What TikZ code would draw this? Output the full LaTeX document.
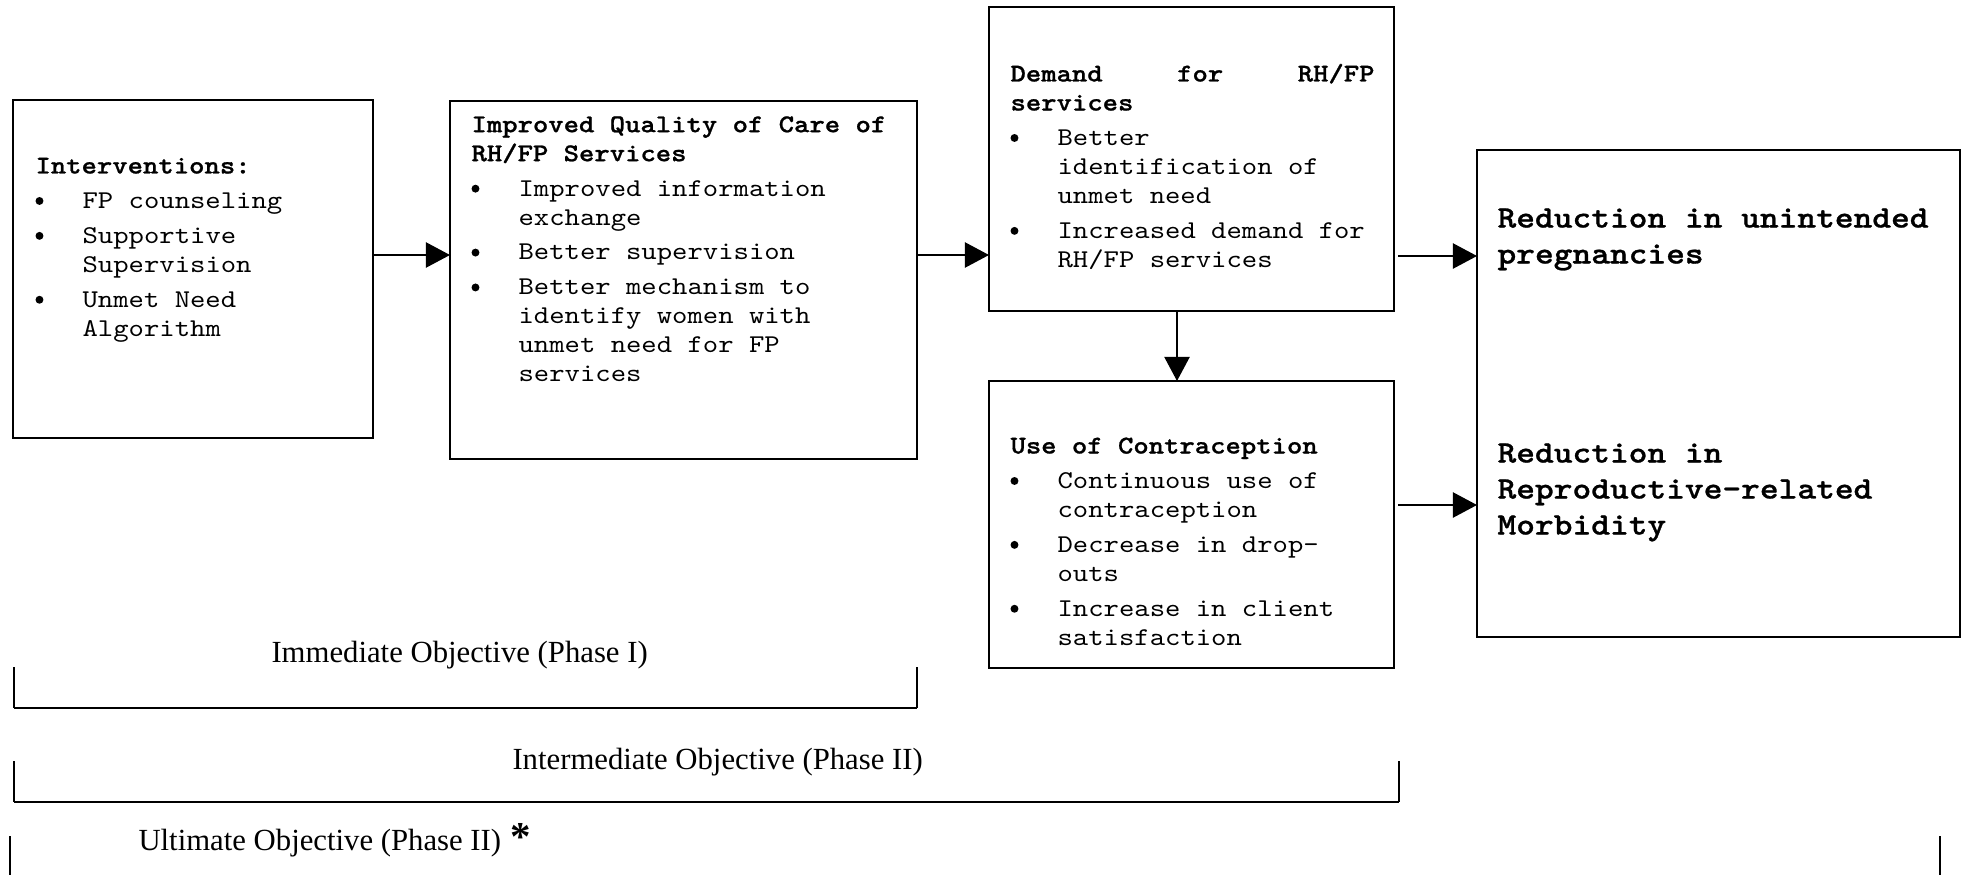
\documentclass[tikz,border=0pt]{standalone}
\usepackage{fontspec}
\setmainfont{Liberation Serif}
\setmonofont{lmmono10-regular}[Extension=.otf, BoldFont=lmmonolt10-bold, BoldFeatures={FakeBold=0.9}, FakeStretch=1.143]
\usetikzlibrary{arrows.meta,calc}
\newcommand{\dotb}{\tikz[baseline=0pt]{\fill (1.9pt,2.9pt) circle (1.55pt);}}
\newcommand{\bitem}[1]{\makebox[18.4pt][l]{\dotb}#1}
\newcommand{\cont}[1]{\hspace*{18.4pt}#1}
\newcommand{\fst}{\rule{0pt}{8pt}}
\newcommand{\fstb}{\rule{0pt}{9.5pt}}
\begin{document}
\begin{tikzpicture}[x=0.390625pt,y=-0.390625pt,
  box/.style={draw, line width=0.8pt, inner sep=0pt, outer sep=0pt, anchor=north west},
  txt/.style={anchor=north west, inner sep=0pt, align=left, font=\fontsize{10}{11.33}\selectfont\ttfamily},
  big/.style={anchor=north west, inner sep=0pt, align=left, font=\fontsize{12.2}{14.06}\selectfont\ttfamily\bfseries},
  lbl/.style={anchor=base west, inner sep=0pt, font=\fontsize{12}{14}\selectfont},
  arr/.style={line width=0.8pt, -{Triangle[length=9.4pt,width=9.8pt]}},
  brk/.style={line width=0.7pt},
  brkbot/.style={line width=1pt}
]
\useasboundingbox (0,0) rectangle (1966,875);

% boxes
\node[box, minimum width=360*0.390625pt, minimum height=338*0.390625pt] (b1) at (13,100) {};
\node[box, minimum width=467*0.390625pt, minimum height=358*0.390625pt] (b2) at (450,101) {};
\node[box, minimum width=405*0.390625pt, minimum height=304*0.390625pt] (b3) at (989,7) {};
\node[box, minimum width=405*0.390625pt, minimum height=287*0.390625pt] (b4) at (989,381) {};
\node[box, minimum width=483*0.390625pt, minimum height=487*0.390625pt] (b5) at (1477,150) {};

% texts
\node[txt] (t1) at (35,152.5) {\fst\textbf{Interventions:}\\[2.3pt]
\bitem{FP counseling}\\[2.3pt]
\bitem{Supportive}\\
\cont{Supervision}\\[2.3pt]
\bitem{Unmet Need}\\
\cont{Algorithm}};

\node[txt] (t2) at (471,111.2) {\fst\textbf{Improved Quality of Care of}\\
\textbf{RH/FP Services}\\[2.3pt]
\bitem{Improved information}\\
\cont{exchange}\\[2.3pt]
\bitem{Better supervision}\\[2.3pt]
\bitem{Better mechanism to}\\
\cont{identify women with}\\
\cont{unmet need for FP}\\
\cont{services}};

\node[txt] (t3) at (1010,60.5) {\fst\makebox[142.2pt][s]{\textbf{Demand}\hfill\textbf{for}\hfill\textbf{RH/FP}}\\
\textbf{services}\\[2.3pt]
\bitem{Better}\\
\cont{identification of}\\
\cont{unmet need}\\[2.3pt]
\bitem{Increased demand for}\\
\cont{RH/FP services}};

\node[txt] (t4) at (1010,432.5) {\fst\textbf{Use of Contraception}\\[2.3pt]
\bitem{Continuous use of}\\
\cont{contraception}\\[2.3pt]
\bitem{Decrease in drop-}\\
\cont{outs}\\[2.3pt]
\bitem{Increase in client}\\
\cont{satisfaction}};

\node[big] (u1) at (1497,202.7) {\fstb Reduction in unintended\\pregnancies};
\node[big] (u2) at (1497,437.7) {\fstb Reduction in\\Reproductive-related\\Morbidity};

% arrows
\coordinate (a1) at (0,255);
\draw[arr] (b1.east |- a1) -- (b2.west |- a1);
\draw[arr] (b2.east |- a1) -- (b3.west |- a1);
\coordinate (a3) at (1398,256);
\draw[arr] (a3) -- (b5.west |- a3);
\coordinate (a4) at (1398,505);
\draw[arr] (a4) -- (b5.west |- a4);
\coordinate (dn) at (1177,0);
\draw[arr] (b3.south -| dn) -- (b4.north -| dn);

% labels and brackets
\node[lbl] (l1) at (271,662) {Immediate Objective (Phase I)};
\draw[brk] (14,667) -- (14,708);
\draw[brk] (917,667) -- (917,708);
\draw[brkbot] (14,708) -- (917,708);

\node[lbl] (l2) at (512,769) {Intermediate Objective (Phase II)};
\draw[brk] (14,761) -- (14,802);
\draw[brk] (1399,761) -- (1399,802);
\draw[brkbot] (14,802) -- (1399,802);

\node[lbl] (l3) at (138,850) {Ultimate Objective (Phase II)\hspace{0.8pt} {\bfseries\fontsize{16}{16}\selectfont *}};
\draw[brk] (10,836) -- (10,876);
\draw[brk] (1940,836) -- (1940,876);
\end{tikzpicture}
\end{document}
